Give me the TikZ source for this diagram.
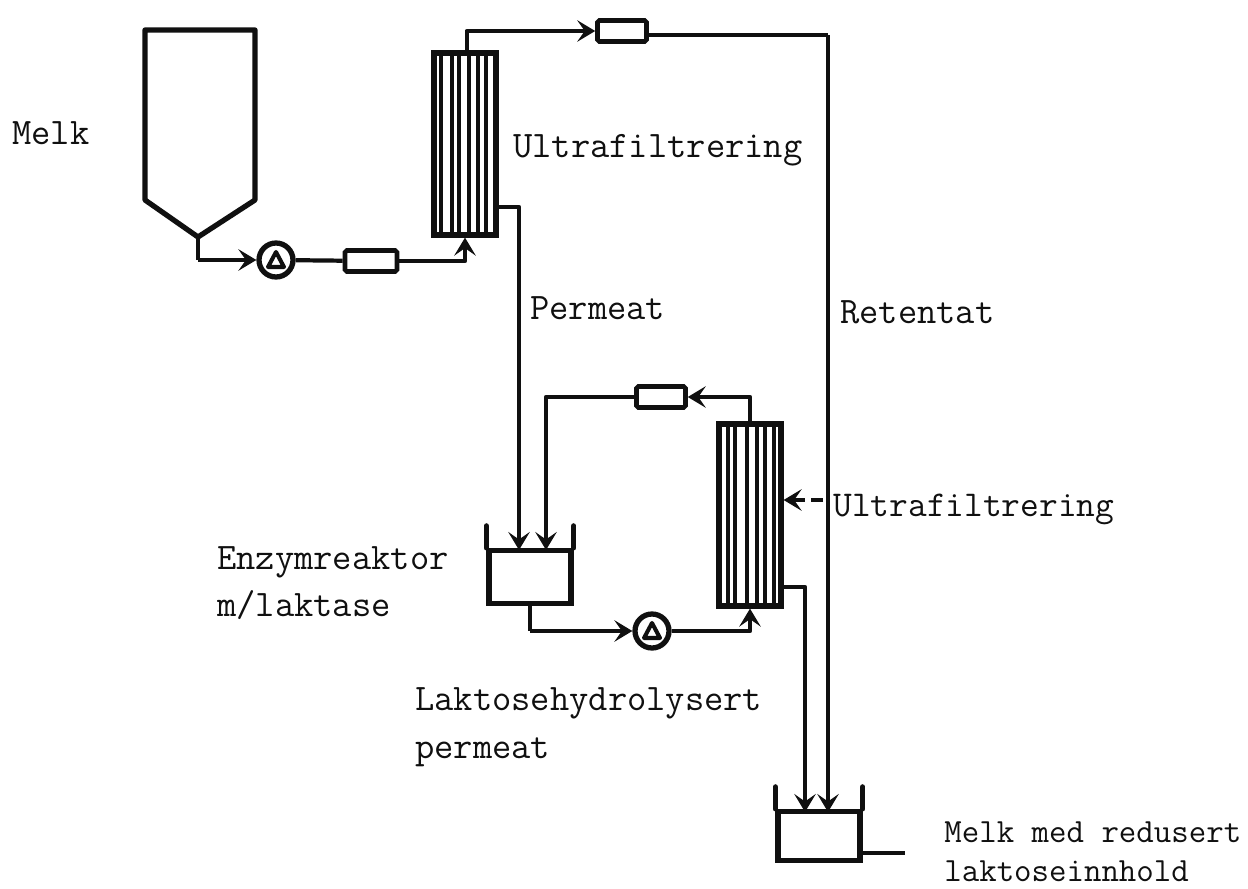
\documentclass[tikz,border=0pt]{standalone}
\usepackage{xcolor}
\usetikzlibrary{arrows.meta,positioning}
\definecolor{inkblack}{HTML}{101010}
\tikzset{
  pipe/.style={draw=inkblack, line width=2.4pt, line join=round},
  pipearrow/.style={pipe, -{Stealth[length=3.6mm,width=4.3mm,inset=1.5mm]}},
  dasharrow/.style={pipearrow, dashed, dash pattern=on 7pt off 3.5pt},
  vessel/.style={draw=inkblack, line width=3pt, line join=round, line cap=round},
  filterbox/.style={draw=inkblack, line width=3pt, minimum width=1.24cm, minimum height=3.64cm, inner sep=0pt},
  flowmeter/.style={draw=inkblack, line width=2.6pt, rounded corners=1pt, minimum width=0.98cm, minimum height=0.42cm, inner sep=0pt},
  pumpcircle/.style={draw=inkblack, line width=3pt, circle, minimum size=0.68cm, inner sep=0pt},
  basin/.style={draw=inkblack, line width=3pt, minimum width=1.64cm, minimum height=1.06cm, inner sep=0pt},
  fibre/.style={draw=inkblack, line width=2.4pt},
  lab/.style={font=\fontsize{21.3}{36}\ttfamily, text=inkblack, anchor=base west, inner sep=0pt, align=left},
  labsmall/.style={lab, font=\fontsize{19.3}{36}\ttfamily},
}
\begin{document}
\begin{tikzpicture}[x=0.02cm, y=-0.02cm]
  \useasboundingbox (0,0) rectangle (1248,889);
  % milk tank
  \coordinate (tankapex) at (198,237);
  \draw[vessel] (145,200) -- (145,30) -- (255,30) -- (255,200) -- (tankapex) -- cycle;
  % equipment
  \node[pumpcircle] (pump1) at (276,260) {};
  \node[pumpcircle] (pump2) at (652,631) {};
  \node[flowmeter, minimum width=1.04cm] (meter1) at (371,261) {};
  \node[flowmeter] (meter2) at (622,31) {};
  \node[flowmeter] (meter3) at (661,397) {};
  \node[filterbox] (filter1) at (465,144) {};
  \node[filterbox] (filter2) at (750,515) {};
  \node[basin] (reactor) at (530,577) {};
  \node[basin, minimum height=0.98cm] (product) at (819,836) {};
  % pump triangles
  \foreach \p in {pump1,pump2} {
    \draw[vessel, line width=2.3pt] ([shift={(-8,7)}]\p.center) -- ([shift={(0,-8)}]\p.center) -- ([shift={(8,7)}]\p.center) -- cycle;
  }
  % basin walls
  \foreach \b in {reactor,product} {
    \draw[vessel] (\b.north west) -- ++(0,-22);
    \draw[vessel] (\b.north east) -- ++(0,-22);
  }
  % fibres in the filters
  \foreach \dx in {-24,-13,-6,4,13,21} {
    \draw[fibre] ([shift={(\dx,5)}]filter1.north) -- ([shift={(\dx,-5)}]filter1.south);
  }
  \foreach \dx in {-22,-15,-3,7,15,24} {
    \draw[fibre] ([shift={(\dx,5)}]filter2.north) -- ([shift={(\dx,-5)}]filter2.south);
  }
  % connectors
  \coordinate (outlet1) at (198,260);
  \draw[pipe] (tankapex) -- (outlet1);
  \draw[pipearrow] (outlet1) -- (pump1);
  \draw[pipe] (pump1) -- (meter1);
  \draw[pipearrow] (meter1) -| (filter1.south);
  \draw[pipearrow] ([xshift=1pt]filter1.north) |- (meter2);
  \coordinate (bend1) at (828,35);
  \coordinate (prodin1) at (828,812);
  \coordinate (prodin2) at (805,812);
  \draw[pipe] (meter2.east |- bend1) -- (bend1);
  \draw[pipearrow] (bend1) -- (prodin1);
  \coordinate (permout) at (filter1.east |- 0,207);
  \coordinate (permbend) at (519,207);
  \coordinate (permin) at (519,550);
  \draw[pipearrow] (permout) -- (permbend) -- (permin);
  \coordinate (recyin) at (546,550);
  \draw[pipearrow] (meter3.west) -| (recyin);
  \draw[pipearrow] (filter2.north) |- (meter3.east);
  \coordinate (reactout) at (530,631);
  \draw[pipe] (reactor.south) -- (reactout);
  \draw[pipearrow] (reactout) -- (pump2);
  \draw[pipearrow] (pump2) -| (filter2.south);
  \coordinate (prodout) at (filter2.east |- 0,587);
  \coordinate (prodbend) at (805,587);
  \draw[pipearrow] (prodout) -- (prodbend) -- (prodin2);
  \coordinate (dashfrom) at (823,500);
  \coordinate (dashto) at (filter2.east |- dashfrom);
  \draw[dasharrow] (dashfrom) -- (dashto);
  \coordinate (drain) at (905,853);
  \draw[pipe] (product.east |- drain) -- (drain);
  % labels
  \node[lab] (melk) at (12,144) {Melk};
  \node[lab] (uf1) at (513,157) {Ultrafiltrering};
  \node[lab] (perm) at (530,319) {Permeat};
  \node[lab] (ret) at (840,323) {Retentat};
  \node[lab, font=\fontsize{20.7}{36}\ttfamily] (uf2) at (833,516) {Ultrafiltrering};
  \node[lab] (enz) at (217,569) {Enzymreaktor};
  \node[lab] (mlak) at (217,616) {m/laktase};
  \node[lab] (lh) at (415,710) {Laktosehydrolysert};
  \node[lab] (lhp) at (415,758) {permeat};
  \node[labsmall] (mm) at (944,842) {Melk med redusert};
  \node[labsmall] (mli) at (944,881) {laktoseinnhold};
\end{tikzpicture}
\end{document}
